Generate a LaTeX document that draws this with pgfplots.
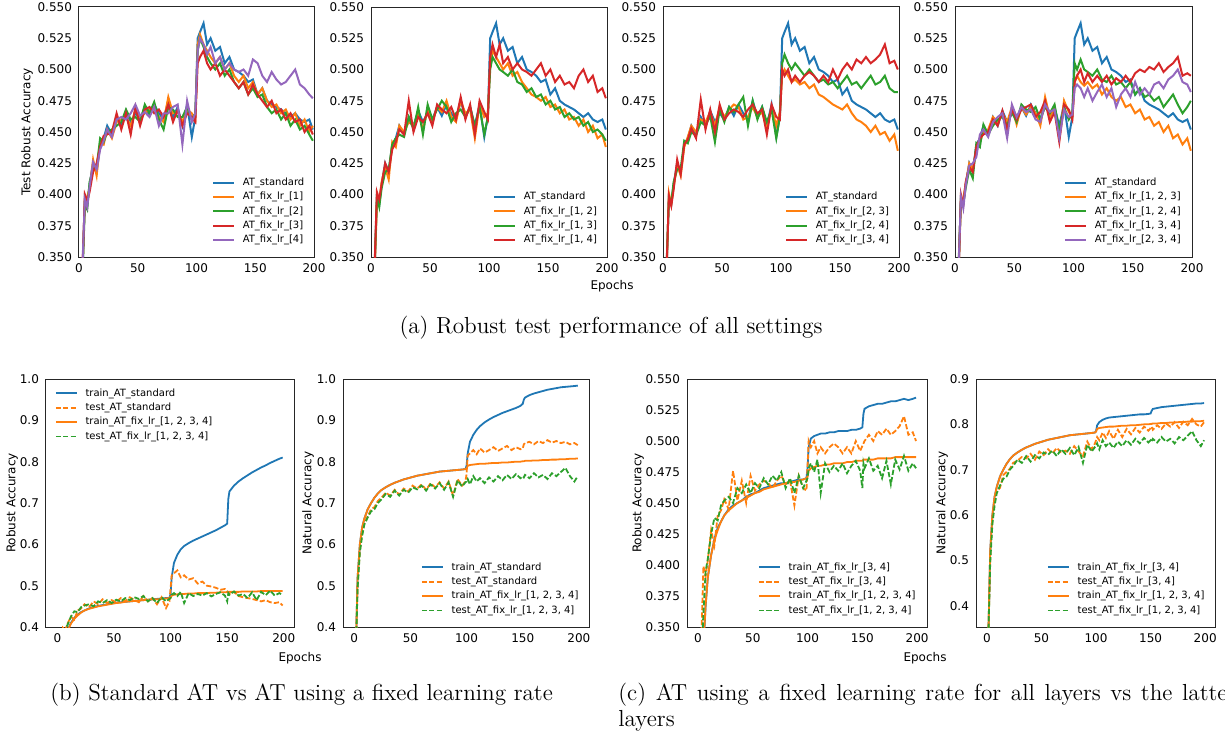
\documentclass[border=0pt]{standalone}
\usepackage{fontspec}
\usepackage{pgfplots}
\usepackage{pgfplotstable}
\pgfplotsset{compat=1.18}
\newfontfamily\dejavu{DejaVu Sans}

\definecolor{c0}{HTML}{1F77B4}
\definecolor{c1}{HTML}{FF7F0E}
\definecolor{c2}{HTML}{2CA02C}
\definecolor{c3}{HTML}{D62728}
\definecolor{c4}{HTML}{9467BD}

% robust test accuracy, all settings (std = AT_standard, fXY = AT_fix_lr_[X, Y])
\pgfplotstableread{
ep  std   f1    f2    f3    f4    f12   f13   f14   f23   f24   f34   f123  f124  f134  f234
1   0.280 0.282 0.279 0.281 0.283 0.280 0.278 0.282 0.281 0.279 0.280 0.282 0.280 0.281 0.279
3   0.338 0.342 0.335 0.340 0.345 0.336 0.339 0.341 0.337 0.343 0.340 0.338 0.344 0.336 0.341
5   0.398 0.395 0.392 0.400 0.396 0.393 0.398 0.402 0.401 0.397 0.399 0.394 0.396 0.400 0.398
7   0.392 0.398 0.388 0.395 0.390 0.395 0.390 0.396 0.392 0.394 0.391 0.397 0.393 0.392 0.389
9   0.408 0.405 0.410 0.402 0.406 0.410 0.405 0.408 0.406 0.410 0.404 0.408 0.405 0.410 0.407
12  0.425 0.428 0.420 0.418 0.426 0.422 0.418 0.425 0.424 0.420 0.428 0.425 0.420 0.422 0.423
15  0.418 0.415 0.422 0.425 0.420 0.412 0.420 0.418 0.415 0.421 0.416 0.420 0.413 0.418 0.425
18  0.440 0.442 0.445 0.438 0.436 0.442 0.440 0.436 0.438 0.443 0.440 0.436 0.441 0.438 0.430
21  0.445 0.440 0.442 0.447 0.443 0.438 0.445 0.442 0.446 0.441 0.444 0.442 0.438 0.445 0.448
24  0.455 0.452 0.450 0.448 0.452 0.455 0.448 0.452 0.455 0.450 0.453 0.450 0.456 0.448 0.452
28  0.448 0.445 0.452 0.450 0.446 0.450 0.446 0.448 0.450 0.447 0.445 0.452 0.448 0.450 0.446
32  0.462 0.458 0.455 0.465 0.460 0.458 0.462 0.475 0.460 0.458 0.476 0.462 0.455 0.460 0.458
36  0.455 0.460 0.458 0.452 0.462 0.455 0.452 0.450 0.458 0.455 0.452 0.458 0.460 0.455 0.462
40  0.467 0.462 0.468 0.465 0.460 0.465 0.470 0.462 0.466 0.463 0.468 0.465 0.462 0.467 0.465
44  0.458 0.455 0.460 0.448 0.465 0.452 0.448 0.458 0.455 0.442 0.450 0.458 0.455 0.452 0.445
48  0.465 0.468 0.462 0.470 0.472 0.468 0.472 0.465 0.470 0.468 0.472 0.470 0.466 0.468 0.472
52  0.460 0.462 0.458 0.455 0.463 0.458 0.460 0.455 0.462 0.458 0.460 0.456 0.458 0.460 0.462
56  0.470 0.465 0.472 0.468 0.466 0.470 0.468 0.472 0.468 0.470 0.465 0.470 0.472 0.468 0.470
60  0.463 0.468 0.465 0.470 0.462 0.466 0.475 0.468 0.472 0.466 0.468 0.464 0.468 0.470 0.466
64  0.472 0.470 0.474 0.465 0.470 0.475 0.470 0.465 0.470 0.472 0.466 0.470 0.466 0.472 0.468
68  0.465 0.462 0.460 0.468 0.455 0.462 0.458 0.470 0.460 0.478 0.462 0.465 0.470 0.462 0.460
72  0.460 0.458 0.452 0.462 0.465 0.458 0.465 0.460 0.462 0.455 0.468 0.455 0.460 0.466 0.458
76  0.475 0.478 0.470 0.472 0.465 0.475 0.468 0.478 0.470 0.475 0.472 0.478 0.470 0.475 0.472
80  0.462 0.465 0.468 0.458 0.470 0.465 0.462 0.460 0.462 0.460 0.465 0.462 0.465 0.458 0.466
84  0.470 0.466 0.462 0.468 0.472 0.468 0.470 0.472 0.466 0.470 0.468 0.470 0.472 0.466 0.468
88  0.455 0.458 0.462 0.455 0.440 0.445 0.455 0.448 0.452 0.458 0.448 0.445 0.450 0.442 0.445
92  0.472 0.468 0.470 0.465 0.475 0.472 0.470 0.475 0.470 0.468 0.472 0.475 0.470 0.472 0.468
96  0.446 0.465 0.460 0.462 0.458 0.462 0.448 0.466 0.455 0.445 0.462 0.466 0.460 0.468 0.462
99  0.462 0.460 0.465 0.458 0.465 0.465 0.462 0.460 0.466 0.462 0.460 0.462 0.465 0.460 0.464
101 0.525 0.520 0.515 0.505 0.515 0.505 0.500 0.510 0.495 0.505 0.500 0.490 0.505 0.490 0.485
103 0.530 0.528 0.525 0.510 0.525 0.515 0.510 0.520 0.500 0.512 0.495 0.495 0.500 0.495 0.488
106 0.537 0.520 0.518 0.515 0.520 0.510 0.505 0.510 0.495 0.505 0.500 0.490 0.508 0.500 0.485
109 0.520 0.515 0.510 0.505 0.512 0.505 0.500 0.520 0.490 0.500 0.490 0.487 0.500 0.490 0.478
112 0.525 0.510 0.505 0.500 0.518 0.500 0.498 0.505 0.492 0.505 0.495 0.490 0.498 0.497 0.485
116 0.515 0.505 0.500 0.505 0.505 0.505 0.495 0.510 0.488 0.500 0.490 0.485 0.495 0.490 0.475
120 0.518 0.510 0.505 0.495 0.510 0.495 0.500 0.500 0.490 0.495 0.495 0.488 0.500 0.495 0.482
124 0.505 0.500 0.495 0.500 0.500 0.498 0.490 0.505 0.485 0.500 0.498 0.480 0.492 0.490 0.488
128 0.510 0.505 0.500 0.495 0.505 0.490 0.488 0.500 0.488 0.495 0.495 0.485 0.490 0.495 0.478
132 0.500 0.495 0.490 0.490 0.500 0.485 0.482 0.498 0.480 0.490 0.490 0.478 0.495 0.488 0.485
136 0.498 0.490 0.485 0.485 0.498 0.480 0.485 0.495 0.478 0.492 0.495 0.475 0.488 0.493 0.470
140 0.495 0.495 0.490 0.490 0.500 0.478 0.478 0.500 0.475 0.488 0.490 0.478 0.490 0.490 0.480
144 0.490 0.485 0.480 0.480 0.495 0.475 0.480 0.505 0.472 0.490 0.500 0.470 0.485 0.495 0.485
148 0.492 0.490 0.485 0.488 0.508 0.478 0.472 0.495 0.470 0.485 0.492 0.472 0.490 0.490 0.478
152 0.480 0.480 0.478 0.480 0.505 0.470 0.475 0.500 0.468 0.490 0.500 0.465 0.480 0.497 0.490
156 0.485 0.485 0.480 0.475 0.495 0.472 0.468 0.490 0.472 0.495 0.505 0.468 0.485 0.500 0.480
160 0.475 0.475 0.470 0.470 0.490 0.465 0.470 0.495 0.465 0.488 0.500 0.460 0.478 0.498 0.485
164 0.472 0.470 0.465 0.475 0.498 0.468 0.462 0.488 0.460 0.490 0.508 0.462 0.480 0.502 0.480
168 0.470 0.472 0.468 0.465 0.492 0.460 0.465 0.490 0.458 0.485 0.505 0.455 0.475 0.500 0.488
172 0.468 0.465 0.460 0.468 0.488 0.462 0.460 0.485 0.455 0.490 0.510 0.458 0.478 0.505 0.490
176 0.465 0.468 0.465 0.460 0.490 0.455 0.462 0.495 0.450 0.495 0.505 0.450 0.470 0.498 0.485
180 0.462 0.460 0.455 0.465 0.495 0.460 0.455 0.500 0.455 0.488 0.508 0.455 0.475 0.502 0.492
184 0.465 0.465 0.460 0.458 0.500 0.450 0.458 0.490 0.448 0.490 0.512 0.445 0.480 0.505 0.495
188 0.460 0.455 0.452 0.460 0.488 0.455 0.450 0.495 0.450 0.495 0.520 0.448 0.472 0.510 0.500
192 0.458 0.460 0.455 0.450 0.485 0.445 0.452 0.482 0.443 0.485 0.505 0.440 0.465 0.495 0.490
196 0.460 0.450 0.448 0.455 0.480 0.448 0.448 0.485 0.448 0.482 0.507 0.445 0.470 0.497 0.488
199 0.452 0.455 0.443 0.448 0.477 0.438 0.443 0.477 0.435 0.482 0.500 0.435 0.475 0.495 0.482
}\tabtop

% robust accuracy, train curves and test of fix_lr_[1,2,3,4]
\pgfplotstableread{
ep  trainStd trainFix testFix train34
1   0.250 0.250 0.260 0.250
3   0.300 0.300 0.320 0.300
5   0.335 0.335 0.362 0.333
7   0.370 0.368 0.395 0.367
9   0.392 0.390 0.405 0.390
12  0.410 0.408 0.425 0.408
15  0.422 0.420 0.438 0.421
18  0.430 0.428 0.436 0.430
21  0.436 0.435 0.448 0.435
24  0.440 0.440 0.452 0.440
28  0.445 0.444 0.455 0.445
32  0.448 0.447 0.450 0.448
36  0.451 0.450 0.462 0.450
40  0.453 0.452 0.458 0.452
44  0.455 0.454 0.465 0.455
48  0.457 0.456 0.458 0.457
52  0.459 0.458 0.466 0.458
56  0.460 0.459 0.462 0.460
60  0.461 0.461 0.470 0.462
64  0.462 0.462 0.465 0.463
68  0.463 0.463 0.472 0.464
72  0.464 0.464 0.468 0.465
76  0.465 0.465 0.475 0.466
80  0.466 0.466 0.462 0.466
84  0.467 0.467 0.470 0.467
88  0.468 0.467 0.458 0.468
92  0.469 0.468 0.472 0.469
96  0.470 0.469 0.462 0.469
99  0.470 0.470 0.468 0.470
100 0.480 0.471 0.470 0.478
101 0.520 0.476 0.478 0.495
103 0.555 0.478 0.482 0.502
106 0.575 0.479 0.475 0.504
109 0.588 0.480 0.485 0.505
112 0.596 0.480 0.458 0.506
116 0.603 0.481 0.482 0.506
120 0.609 0.481 0.475 0.507
124 0.614 0.482 0.480 0.507
128 0.619 0.482 0.476 0.508
132 0.624 0.482 0.482 0.508
136 0.629 0.483 0.474 0.508
140 0.634 0.483 0.480 0.509
144 0.640 0.484 0.484 0.509
148 0.646 0.484 0.476 0.510
150 0.650 0.484 0.462 0.511
151 0.710 0.485 0.482 0.522
152 0.728 0.485 0.478 0.526
156 0.742 0.485 0.486 0.528
160 0.752 0.485 0.476 0.529
164 0.760 0.486 0.480 0.530
168 0.767 0.486 0.470 0.530
172 0.774 0.486 0.484 0.531
176 0.780 0.486 0.465 0.532
180 0.786 0.487 0.485 0.532
184 0.791 0.487 0.477 0.533
188 0.797 0.487 0.488 0.534
192 0.802 0.487 0.476 0.533
196 0.807 0.487 0.482 0.534
199 0.810 0.487 0.478 0.535
}\tabrob

% natural accuracy
\pgfplotstableread{
ep  trainStd testStd trainFix testFix train34 test34
1   0.300 0.300 0.300 0.300 0.300 0.300
3   0.520 0.500 0.520 0.495 0.520 0.505
5   0.600 0.585 0.600 0.580 0.600 0.590
7   0.640 0.625 0.640 0.620 0.640 0.630
9   0.662 0.650 0.662 0.648 0.662 0.652
12  0.685 0.668 0.685 0.665 0.685 0.660
15  0.700 0.685 0.700 0.680 0.700 0.688
18  0.713 0.690 0.713 0.685 0.713 0.695
21  0.723 0.705 0.723 0.700 0.723 0.702
24  0.731 0.712 0.731 0.708 0.731 0.715
28  0.738 0.725 0.738 0.722 0.738 0.720
32  0.744 0.718 0.744 0.715 0.744 0.728
36  0.749 0.732 0.749 0.730 0.749 0.725
40  0.753 0.720 0.753 0.718 0.753 0.735
44  0.757 0.735 0.757 0.732 0.757 0.722
48  0.760 0.728 0.760 0.725 0.760 0.740
52  0.763 0.742 0.763 0.738 0.763 0.732
56  0.766 0.735 0.766 0.733 0.766 0.745
60  0.768 0.745 0.768 0.742 0.768 0.736
64  0.770 0.732 0.770 0.730 0.770 0.748
68  0.772 0.748 0.772 0.745 0.772 0.738
72  0.774 0.738 0.774 0.735 0.774 0.742
76  0.776 0.750 0.776 0.748 0.776 0.735
80  0.777 0.735 0.777 0.732 0.777 0.752
84  0.778 0.752 0.778 0.750 0.778 0.740
88  0.779 0.718 0.779 0.715 0.779 0.730
92  0.780 0.758 0.780 0.755 0.780 0.762
96  0.781 0.742 0.781 0.740 0.781 0.745
99  0.782 0.752 0.782 0.750 0.782 0.758
100 0.790 0.770 0.784 0.752 0.785 0.765
101 0.820 0.815 0.790 0.758 0.798 0.772
103 0.848 0.820 0.792 0.745 0.805 0.765
106 0.865 0.828 0.793 0.765 0.810 0.782
109 0.877 0.818 0.794 0.752 0.813 0.770
112 0.886 0.832 0.795 0.760 0.815 0.785
116 0.895 0.822 0.795 0.748 0.816 0.768
120 0.902 0.828 0.796 0.762 0.817 0.788
124 0.908 0.835 0.797 0.752 0.818 0.772
128 0.913 0.826 0.797 0.765 0.819 0.790
132 0.918 0.832 0.798 0.755 0.820 0.778
136 0.922 0.838 0.798 0.768 0.821 0.792
140 0.926 0.828 0.799 0.758 0.822 0.782
144 0.930 0.835 0.800 0.770 0.822 0.795
148 0.935 0.830 0.800 0.760 0.823 0.786
150 0.940 0.832 0.801 0.765 0.824 0.792
151 0.950 0.842 0.801 0.762 0.830 0.795
152 0.955 0.845 0.802 0.768 0.834 0.788
156 0.961 0.848 0.802 0.760 0.836 0.798
160 0.965 0.842 0.803 0.772 0.838 0.790
164 0.968 0.850 0.803 0.762 0.839 0.802
168 0.971 0.845 0.804 0.768 0.840 0.795
172 0.974 0.852 0.804 0.758 0.841 0.805
176 0.976 0.846 0.805 0.772 0.842 0.792
180 0.978 0.850 0.805 0.765 0.843 0.806
184 0.980 0.845 0.806 0.775 0.844 0.798
188 0.981 0.848 0.806 0.785 0.845 0.812
192 0.982 0.842 0.807 0.765 0.846 0.800
196 0.983 0.845 0.807 0.752 0.846 0.795
199 0.984 0.840 0.808 0.765 0.847 0.805
}\tabnat

\pgfplotsset{
  panel/.style={
    scale only axis, anchor=south west,
    axis line style={black!85, line width=0.5pt},
    major tick length=0pt,
    tick label style={font=\dejavu\fontsize{6}{7}\selectfont},
    /pgf/number format/assume math mode=true,
    label style={font=\dejavu\fontsize{6}{7}\selectfont},
    scaled y ticks=false,
    legend cell align=left,
    legend image code/.code={\draw[mark=none,#1] (0pt,0pt) -- (10.5pt,0pt);},
    legend style={draw=none, fill=none, inner sep=0pt, outer sep=0pt,
      font=\dejavu\fontsize{5}{6}\selectfont, row sep=1.6pt,
      nodes={inner sep=0.4pt, text height=3.8pt, text depth=1pt},
      /tikz/every odd column/.append style={column sep=3.5pt}},
  },
  ylab/.style={ylabel style={at={(axis description cs:#1,0.5)}, anchor=center, rotate=0}},
  toprow/.style={panel, height=125pt, xmin=0, xmax=200, ymin=0.35, ymax=0.55,
    xtick={0,50,100,150,200}, ytick={0.35,0.375,...,0.551},
    yticklabel style={/pgf/number format/.cd, fixed, fixed zerofill, precision=3}},
  botrow/.style={panel, height=124pt, xmin=-10, xmax=209, xtick={0,50,100,150,200}},
  tl/.style={line width=1pt},
  bl/.style={line width=0.9pt},
  dsh/.style={dash pattern=on 2.6pt off 1.1pt},
}

\newcommand\capfont{\fontsize{11.6}{13.5}\selectfont}

\begin{document}
\begin{tikzpicture}
\useasboundingbox (0,0) rectangle (612.5pt,368pt);

% ---- (a) top row ----
\begin{axis}[toprow, at={(39.5pt,239.5pt)}, width=117.5pt, ylabel={Test Robust Accuracy}, ylab=-0.221,
  legend style={at={(rel axis cs:0.566,0.045)}, anchor=south west}]
\addplot[c0,tl] table[x=ep,y=std] {\tabtop}; \addlegendentry{AT\_standard}
\addplot[c1,tl] table[x=ep,y=f1] {\tabtop}; \addlegendentry{AT\_fix\_lr\_[1]}
\addplot[c2,tl] table[x=ep,y=f2] {\tabtop}; \addlegendentry{AT\_fix\_lr\_[2]}
\addplot[c3,tl] table[x=ep,y=f3] {\tabtop}; \addlegendentry{AT\_fix\_lr\_[3]}
\addplot[c4,tl] table[x=ep,y=f4] {\tabtop}; \addlegendentry{AT\_fix\_lr\_[4]}
\end{axis}

\begin{axis}[toprow, at={(185.5pt,239.5pt)}, width=118pt,
  legend style={at={(rel axis cs:0.517,0.045)}, anchor=south west}]
\addplot[c0,tl] table[x=ep,y=std] {\tabtop}; \addlegendentry{AT\_standard}
\addplot[c1,tl] table[x=ep,y=f12] {\tabtop}; \addlegendentry{AT\_fix\_lr\_[1, 2]}
\addplot[c2,tl] table[x=ep,y=f13] {\tabtop}; \addlegendentry{AT\_fix\_lr\_[1, 3]}
\addplot[c3,tl] table[x=ep,y=f14] {\tabtop}; \addlegendentry{AT\_fix\_lr\_[1, 4]}
\end{axis}

\begin{axis}[toprow, at={(331.5pt,239.5pt)}, width=118pt,
  legend style={at={(rel axis cs:0.517,0.045)}, anchor=south west}]
\addplot[c0,tl] table[x=ep,y=std] {\tabtop}; \addlegendentry{AT\_standard}
\addplot[c1,tl] table[x=ep,y=f23] {\tabtop}; \addlegendentry{AT\_fix\_lr\_[2, 3]}
\addplot[c2,tl] table[x=ep,y=f24] {\tabtop}; \addlegendentry{AT\_fix\_lr\_[2, 4]}
\addplot[c3,tl] table[x=ep,y=f34] {\tabtop}; \addlegendentry{AT\_fix\_lr\_[3, 4]}
\end{axis}

\begin{axis}[toprow, at={(477.5pt,239.5pt)}, width=118.5pt,
  legend style={at={(rel axis cs:0.46,0.045)}, anchor=south west}]
\addplot[c0,tl] table[x=ep,y=std] {\tabtop}; \addlegendentry{AT\_standard}
\addplot[c1,tl] table[x=ep,y=f123] {\tabtop}; \addlegendentry{AT\_fix\_lr\_[1, 2, 3]}
\addplot[c2,tl] table[x=ep,y=f124] {\tabtop}; \addlegendentry{AT\_fix\_lr\_[1, 2, 4]}
\addplot[c3,tl] table[x=ep,y=f134] {\tabtop}; \addlegendentry{AT\_fix\_lr\_[1, 3, 4]}
\addplot[c4,tl] table[x=ep,y=f234] {\tabtop}; \addlegendentry{AT\_fix\_lr\_[2, 3, 4]}
\end{axis}

\node[font=\dejavu\fontsize{6}{7}\selectfont] at (306pt,225pt) {Epochs};
\node[font=\capfont] at (305.5pt,204pt) {(a) Robust test performance of all settings};

% ---- (b) ----
\begin{axis}[botrow, at={(23pt,54.5pt)}, width=124pt, ymin=0.4, ymax=1.0,
  ytick={0.4,0.5,...,1.01}, ylabel={Robust Accuracy}, ylab=-0.137,
  yticklabel style={/pgf/number format/.cd, fixed, fixed zerofill, precision=1},
  legend style={at={(rel axis cs:0.036,0.965)}, anchor=north west}]
\addplot[c0,bl] table[x=ep,y=trainStd] {\tabrob}; \addlegendentry{train\_AT\_standard}
\addplot[c1,bl,dsh] table[x=ep,y=std] {\tabtop}; \addlegendentry{test\_AT\_standard}
\addplot[c1,bl] table[x=ep,y=trainFix] {\tabrob}; \addlegendentry{train\_AT\_fix\_lr\_[1, 2, 3, 4]}
\addplot[c2,bl,dsh] table[x=ep,y=testFix] {\tabrob}; \addlegendentry{test\_AT\_fix\_lr\_[1, 2, 3, 4]}
\end{axis}

\begin{axis}[botrow, at={(171.5pt,54.5pt)}, width=123pt, ymin=0.4, ymax=1.0,
  ytick={0.4,0.5,...,1.01}, ylabel={Natural Accuracy}, ylab=-0.142,
  yticklabel style={/pgf/number format/.cd, fixed, fixed zerofill, precision=1},
  legend style={at={(rel axis cs:0.317,0.044)}, anchor=south west}]
\addplot[c0,bl] table[x=ep,y=trainStd] {\tabnat}; \addlegendentry{train\_AT\_standard}
\addplot[c1,bl,dsh] table[x=ep,y=testStd] {\tabnat}; \addlegendentry{test\_AT\_standard}
\addplot[c1,bl] table[x=ep,y=trainFix] {\tabnat}; \addlegendentry{train\_AT\_fix\_lr\_[1, 2, 3, 4]}
\addplot[c2,bl,dsh] table[x=ep,y=testFix] {\tabnat}; \addlegendentry{test\_AT\_fix\_lr\_[1, 2, 3, 4]}
\end{axis}

% ---- (c) ----
\begin{axis}[botrow, at={(343.5pt,54.5pt)}, width=120pt, ymin=0.35, ymax=0.55,
  ytick={0.35,0.375,...,0.551}, ylabel={Robust Accuracy}, ylab=-0.204,
  yticklabel style={/pgf/number format/.cd, fixed, fixed zerofill, precision=3},
  legend style={at={(rel axis cs:0.296,0.044)}, anchor=south west}]
\addplot[c0,bl] table[x=ep,y=train34] {\tabrob}; \addlegendentry{train\_AT\_fix\_lr\_[3, 4]}
\addplot[c1,bl,dsh] table[x=ep,y=f34] {\tabtop}; \addlegendentry{test\_AT\_fix\_lr\_[3, 4]}
\addplot[c1,bl] table[x=ep,y=trainFix] {\tabrob}; \addlegendentry{train\_AT\_fix\_lr\_[1, 2, 3, 4]}
\addplot[c2,bl,dsh] table[x=ep,y=testFix] {\tabrob}; \addlegendentry{test\_AT\_fix\_lr\_[1, 2, 3, 4]}
\end{axis}

\begin{axis}[botrow, at={(488pt,54.5pt)}, width=119.5pt, ymin=0.353, ymax=0.9,
  ytick={0.4,0.5,...,0.91}, ylabel={Natural Accuracy}, ylab=-0.142,
  yticklabel style={/pgf/number format/.cd, fixed, fixed zerofill, precision=1},
  legend style={at={(rel axis cs:0.297,0.044)}, anchor=south west}]
\addplot[c0,bl] table[x=ep,y=train34] {\tabnat}; \addlegendentry{train\_AT\_fix\_lr\_[3, 4]}
\addplot[c1,bl,dsh] table[x=ep,y=test34] {\tabnat}; \addlegendentry{test\_AT\_fix\_lr\_[3, 4]}
\addplot[c1,bl] table[x=ep,y=trainFix] {\tabnat}; \addlegendentry{train\_AT\_fix\_lr\_[1, 2, 3, 4]}
\addplot[c2,bl,dsh] table[x=ep,y=testFix] {\tabnat}; \addlegendentry{test\_AT\_fix\_lr\_[1, 2, 3, 4]}
\end{axis}

\node[font=\dejavu\fontsize{6}{7}\selectfont] at (150pt,39pt) {Epochs};
\node[font=\dejavu\fontsize{6}{7}\selectfont] at (462.5pt,39pt) {Epochs};

\node[font=\capfont, anchor=base west, inner sep=0pt] at (25pt,18pt)
  {(b) Standard AT vs AT using a fixed learning rate};
\node[font=\capfont, anchor=base west, inner sep=0pt] at (309pt,18pt)
  {\makebox[309pt][s]{(c) AT using a fixed learning rate for all layers vs the latter}};
\node[font=\capfont, anchor=base west, inner sep=0pt] at (309pt,5pt)
  {layers};
\end{tikzpicture}
\end{document}
